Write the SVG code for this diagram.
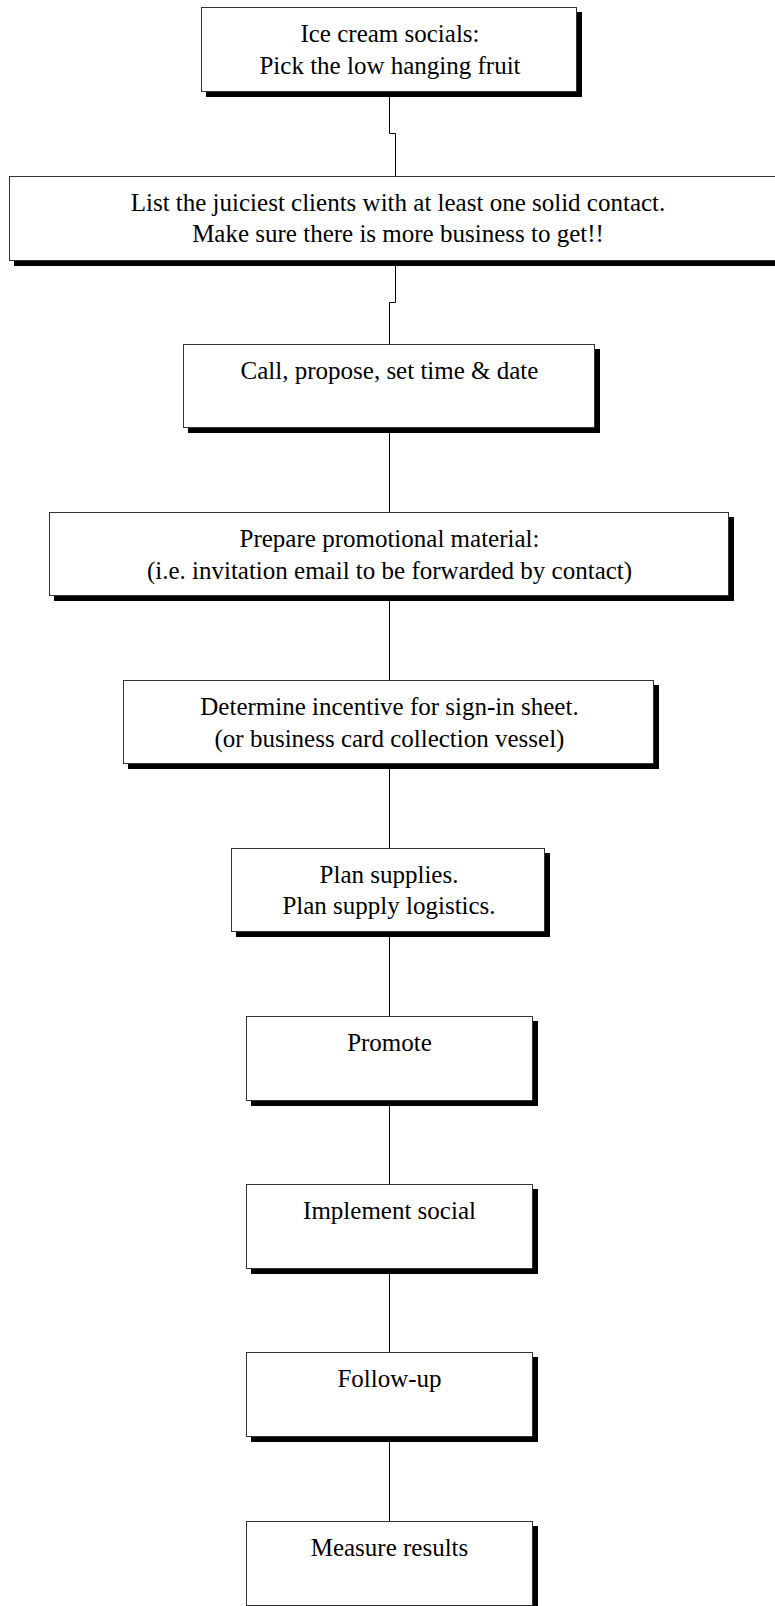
<svg xmlns="http://www.w3.org/2000/svg" width="775" height="1606" viewBox="0 0 775 1606">
<style>
.bg{fill:#ffffff}
.sh{fill:#000000}
.bx{fill:#ffffff;stroke:#333333;stroke-width:1}
.t{font-family:"Liberation Serif","Times New Roman",serif;font-size:25px;fill:#000000;text-anchor:middle}
.c{fill:none;stroke:#000000;stroke-width:1}
</style>
<rect class="bg" x="0" y="0" width="775" height="1606"/>
<g id="connectors">
<path class="c" d="M389.5 91.5 V133.5 H395.5 V176.5"/>
<path class="c" d="M395.5 260.5 V302.5 H389.5 V344.5"/>
<path class="c" d="M389.5 427.5 V512.5"/>
<path class="c" d="M389.5 595.5 V680.5"/>
<path class="c" d="M389.5 763.5 V848.5"/>
<path class="c" d="M389.5 931.5 V1016.5"/>
<path class="c" d="M389.5 1100.5 V1184.5"/>
<path class="c" d="M389.5 1268.5 V1352.5"/>
<path class="c" d="M389.5 1436.5 V1521.5"/>
</g>
<g id="n1">
<rect class="sh" x="206" y="12" width="376" height="85"/>
<rect class="bx" x="201.5" y="7.5" width="375" height="84"/>
<text class="t" x="390" y="42">Ice cream socials:</text>
<text class="t" x="390" y="73.5">Pick the low hanging fruit</text>
</g>
<g id="n2">
<rect class="sh" x="14" y="181" width="778" height="85"/>
<rect class="bx" x="9.5" y="176.5" width="777" height="84"/>
<text class="t" x="398" y="210.5">List the juiciest clients with at least one solid contact.</text>
<text class="t" x="398" y="242">Make sure there is more business to get!!</text>
</g>
<g id="n3">
<rect class="sh" x="188" y="349" width="412" height="84"/>
<rect class="bx" x="183.5" y="344.5" width="411" height="83"/>
<text class="t" x="389.5" y="378.5">Call, propose, set time &amp; date</text>
</g>
<g id="n4">
<rect class="sh" x="54" y="517" width="680" height="84"/>
<rect class="bx" x="49.5" y="512.5" width="679" height="83"/>
<text class="t" x="389.5" y="546.5">Prepare promotional material:</text>
<text class="t" x="389.5" y="578.5">(i.e. invitation email to be forwarded by contact)</text>
</g>
<g id="n5">
<rect class="sh" x="128" y="685" width="531" height="84"/>
<rect class="bx" x="123.5" y="680.5" width="530" height="83"/>
<text class="t" x="389.5" y="714.5">Determine incentive for sign-in sheet.</text>
<text class="t" x="389.5" y="746.5">(or business card collection vessel)</text>
</g>
<g id="n6">
<rect class="sh" x="236" y="853" width="314" height="84"/>
<rect class="bx" x="231.5" y="848.5" width="313" height="83"/>
<text class="t" x="389" y="883">Plan supplies.</text>
<text class="t" x="389" y="914">Plan supply logistics.</text>
</g>
<g id="n7">
<rect class="sh" x="251" y="1021" width="287" height="85"/>
<rect class="bx" x="246.5" y="1016.5" width="286" height="84"/>
<text class="t" x="389.5" y="1050.5">Promote</text>
</g>
<g id="n8">
<rect class="sh" x="251" y="1189" width="287" height="85"/>
<rect class="bx" x="246.5" y="1184.5" width="286" height="84"/>
<text class="t" x="389.5" y="1218.5">Implement social</text>
</g>
<g id="n9">
<rect class="sh" x="251" y="1357" width="287" height="85"/>
<rect class="bx" x="246.5" y="1352.5" width="286" height="84"/>
<text class="t" x="389.5" y="1386.5">Follow-up</text>
</g>
<g id="n10">
<rect class="sh" x="251" y="1526" width="287" height="85"/>
<rect class="bx" x="246.5" y="1521.5" width="286" height="84"/>
<text class="t" x="389.5" y="1555.5">Measure results</text>
</g>
</svg>
